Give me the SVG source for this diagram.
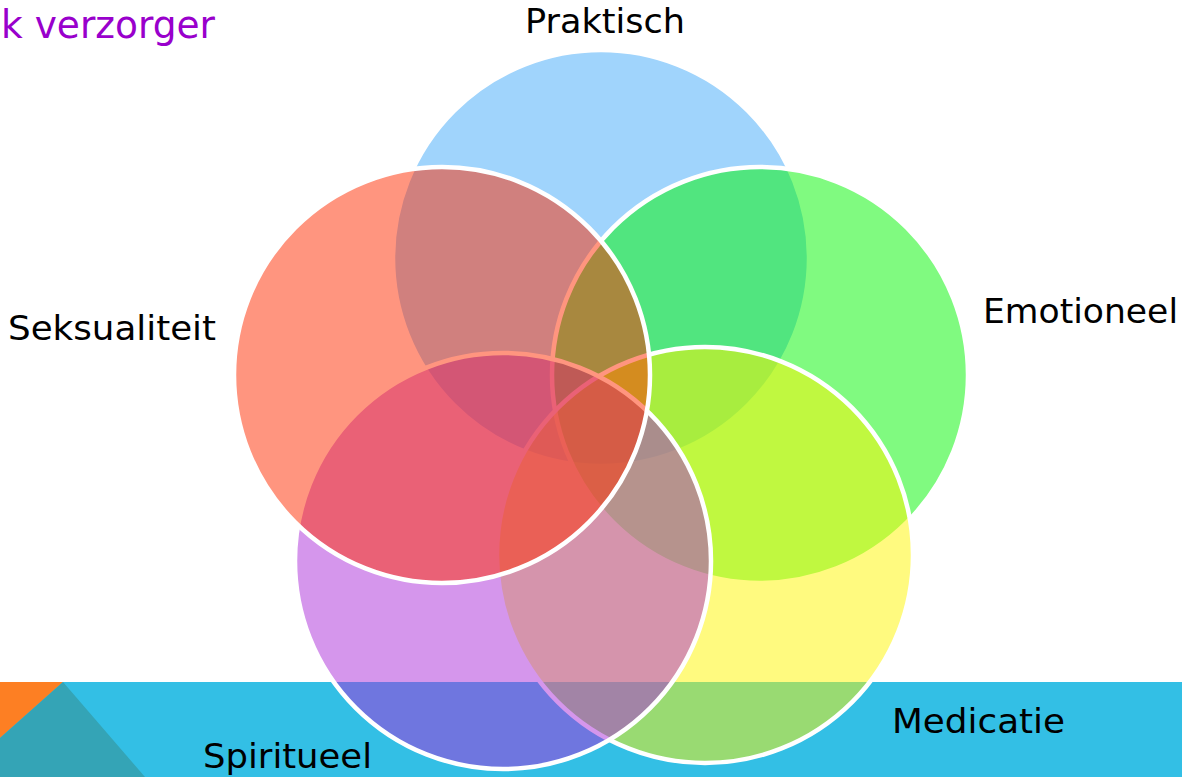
<svg xmlns="http://www.w3.org/2000/svg" width="1182" height="777" viewBox="0 0 1182 777">
<style>
.c{stroke:#FFFFFF;stroke-width:4.5;fill-opacity:0.5}
.lbl{font-family:"DejaVu Sans","Liberation Sans",sans-serif;font-size:34px;fill:#000000}
</style>
<rect x="0" y="0" width="1182" height="777" fill="#FFFFFF"/>
<g id="background">
<rect x="0" y="682" width="1182" height="95" fill="#33BFE5"/>
<polygon points="0,682 63,682 0,738" fill="#FD7F23"/>
<polygon points="63,682 145,777 0,777 0,738" fill="#34A4B6"/>
</g>
<text x="1" y="38" font-family="DejaVu Sans,'Liberation Sans',sans-serif" font-size="39" fill="#9900CC" textLength="214" lengthAdjust="spacingAndGlyphs">k verzorger</text>
<g id="praktisch"><circle class="c" cx="601" cy="258" r="208" fill="#41A9F9"/></g>
<g id="emotioneel"><circle class="c" cx="760" cy="375" r="208" fill="#01F501"/></g>
<g id="medicatie"><circle class="c" cx="705" cy="555" r="208" fill="#FFF500"/></g>
<g id="spiritueel"><circle class="c" cx="503" cy="561" r="208" fill="#AB2DD9"/></g>
<g id="seksualiteit"><circle class="c" cx="442" cy="375" r="208" fill="#FF2B00"/></g>
<g id="connectors"></g>
<g id="labels">
<text class="lbl" x="525" y="33" textLength="160" lengthAdjust="spacingAndGlyphs">Praktisch</text>
<text class="lbl" x="983" y="323" textLength="195" lengthAdjust="spacingAndGlyphs">Emotioneel</text>
<text class="lbl" x="892" y="733" textLength="173" lengthAdjust="spacingAndGlyphs">Medicatie</text>
<text class="lbl" x="203" y="768" textLength="169" lengthAdjust="spacingAndGlyphs">Spiritueel</text>
<text class="lbl" x="8" y="340" textLength="208" lengthAdjust="spacingAndGlyphs">Seksualiteit</text>
</g>
</svg>
